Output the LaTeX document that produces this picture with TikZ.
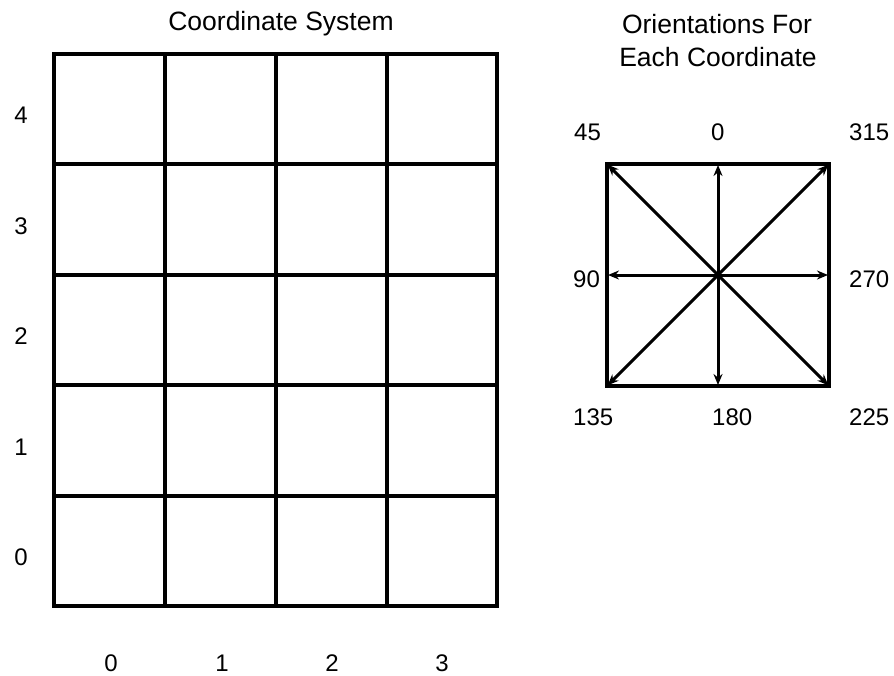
\documentclass[tikz,border=0pt]{standalone}
\usepackage{fontspec}
\setmainfont{Liberation Sans}
\usetikzlibrary{arrows.meta}
\begin{document}
\begin{tikzpicture}[x=1pt,y=-1pt,
  lbl/.style={font=\fontsize{24}{28}\selectfont, inner sep=0pt, anchor=center},
  olbl/.style={lbl, anchor=west},
  ttl/.style={font=\fontsize{26.5}{30}\selectfont, inner sep=0pt, anchor=center},
  gridline/.style={line width=3.4pt, line cap=rect},
  dirarrow/.style={line width=3pt, -{Stealth[length=11pt,width=9pt]}, shorten >=1pt}]
\useasboundingbox (0,0) rectangle (894,675);
% grid
\foreach \x in {54,165,276,387,497} \draw[gridline] (\x,54) -- (\x,606);
\foreach \y in {54,164,275,385,496,606} \draw[gridline] (54,\y) -- (497,\y);
% titles
\node[ttl] (t1) at (281,24) {Coordinate System};
\node[ttl] (t2) at (717,24) {Orientations For};
\node[ttl] (t3) at (718,57) {Each Coordinate};
% row labels
\node[lbl] (r4) at (21,115) {4};
\node[lbl] (r3) at (21,226) {3};
\node[lbl] (r2) at (21,336) {2};
\node[lbl] (r1) at (21,447) {1};
\node[lbl] (r0) at (21,557) {0};
% column labels
\node[lbl] (c0) at (111,663) {0};
\node[lbl] (c1) at (222,663) {1};
\node[lbl] (c2) at (332,663) {2};
\node[lbl] (c3) at (442,663) {3};
% orientation square
\draw[gridline] (607,164) rectangle (829,386);
\coordinate (ctr) at (718,275);
\coordinate (pN) at (718,164);
\coordinate (pS) at (718,386);
\coordinate (pW) at (607,275);
\coordinate (pE) at (829,275);
\coordinate (pNW) at (607,164);
\coordinate (pNE) at (829,164);
\coordinate (pSW) at (607,386);
\coordinate (pSE) at (829,386);
\foreach \p in {pN,pS,pW,pE,pNW,pNE,pSW,pSE} \draw[dirarrow] (ctr) -- (\p);
% orientation labels
\node[olbl] (o45) at (574,132) {45};
\node[olbl] (o0) at (711,132) {0};
\node[olbl] (o315) at (849,132) {315};
\node[olbl] (o90) at (573,279) {90};
\node[olbl] (o270) at (849,279) {270};
\node[olbl] (o135) at (573,417) {135};
\node[olbl] (o180) at (712,417) {180};
\node[olbl] (o225) at (849,417) {225};
\end{tikzpicture}
\end{document}
